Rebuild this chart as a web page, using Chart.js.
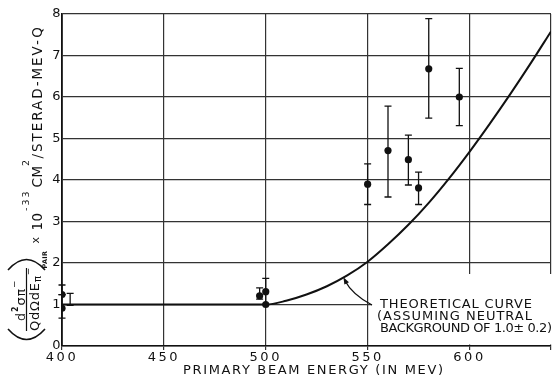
<!DOCTYPE html>
<html>
<head>
<meta charset="utf-8">
<script src="https://cdn.jsdelivr.net/npm/chart.js@4.4.1/dist/chart.umd.min.js"></script>
<style>
  html, body { margin: 0; padding: 0; background: #fff; }
  canvas { display: block; }
</style>
</head>
<body>
<canvas id="canvas" width="555" height="377"></canvas>
<script>
"use strict";

// theoretical curve (neutral background 1.0 +- 0.2)
const curveEnergy = [400, 450, 490, 500, 510, 520, 530, 540, 550, 560, 570, 580, 590, 600, 610, 620, 630, 640];
const curveValue = [1.0, 1.0, 1.0, 1.0, 1.09, 1.24, 1.44, 1.70, 2.03, 2.45, 2.92, 3.45, 4.04, 4.68, 5.36, 6.07, 6.81, 7.58];

// measured points and their error bars
const pointEnergy = [400, 400, 497, 500, 500, 550, 560, 570, 575, 580, 595];
const pointValue = [1.24, 0.91, 1.21, 1.31, 1.0, 3.90, 4.71, 4.49, 3.81, 6.68, 6.00];
const errLow = [1.24, 0.67, 1.13, 1.0, 1.0, 3.41, 3.59, 3.88, 3.41, 5.49, 5.31];
const errHigh = [1.47, 1.24, 1.40, 1.63, 1.0, 4.39, 5.78, 5.08, 4.19, 7.89, 6.69];

// bar without a point next to the 400 MeV data
const bareEnergy = [404];
const bareLow = [0.98];
const bareHigh = [1.27];

// tick labels
const xTickLabels = ["400", "450", "500", "550", "600"];
const yTickLabels = ["0", "1", "2", "3", "4", "5", "6", "7", "8"];

const FONT = "'DejaVu Sans', sans-serif";
const INK = "#111";

function fitText(ctx, text, x, base, width) {
  ctx.letterSpacing = "0px";
  const w = ctx.measureText(text).width;
  const sp = (width - w) / (text.length - 1);
  ctx.letterSpacing = sp + "px";
  ctx.textAlign = "left";
  ctx.textBaseline = "alphabetic";
  ctx.fillText(text, x, base);
  ctx.letterSpacing = "0px";
}

// draws text running upwards, baseline on screen x, starting at screen y
function rotText(ctx, text, x, y, size, sp, weight, endY) {
  ctx.save();
  ctx.font = (weight || "") + " " + size + "px " + FONT;
  ctx.letterSpacing = "0px";
  let spacing = sp || 0;
  if (endY !== undefined) {
    const w0 = ctx.measureText(text).width;
    spacing = ((y - endY) - w0) / (text.length - 1);
  }
  ctx.letterSpacing = spacing + "px";
  ctx.translate(x, y);
  ctx.rotate(-Math.PI / 2);
  ctx.textAlign = "left";
  ctx.textBaseline = "alphabetic";
  ctx.fillText(text, 0, 0);
  const w = ctx.measureText(text).width;
  ctx.restore();
  return y - w;
}

function drawYTitle(ctx) {
  ctx.save();
  ctx.fillStyle = INK;
  ctx.strokeStyle = INK;
  ctx.lineWidth = 1.6;
  ctx.beginPath();
  ctx.moveTo(8, 329); ctx.quadraticCurveTo(26.5, 350, 45, 329);
  ctx.moveTo(8, 270); ctx.quadraticCurveTo(26.5, 249, 45, 270);
  ctx.stroke();
  ctx.lineWidth = 1.2;
  ctx.beginPath();
  ctx.moveTo(26.5, 331); ctx.lineTo(26.5, 268);
  ctx.stroke();

  // numerator
  let y = 321;
  y = rotText(ctx, "d", 24.5, y, 12.5, 1);
  y = rotText(ctx, "2", 17.5, y, 8, 1, "bold");
  y = rotText(ctx, "σ", 24.5, y, 13, 1);
  y = rotText(ctx, "π", 24.5, y, 12, 1);
  rotText(ctx, "−", 17, y, 9, 0);

  // denominator
  y = 331;
  y = rotText(ctx, "QdΩdE", 38.5, y, 13, 0.8);
  y = rotText(ctx, "π", 40.5, y, 10, 0.8);
  rotText(ctx, "−", 31, y, 9, 0);

  rotText(ctx, "PAIR", 47, 268.5, 6.5, 0.3, "bold");

  rotText(ctx, "x", 39.3, 243.5, 11, 0);
  y = rotText(ctx, "10", 42, 230.5, 13.5, 0.5);
  y = rotText(ctx, "-33", 28.5, 211, 9.5, 2);
  y = rotText(ctx, "CM", 42, 187.5, 13.5, 0.5);
  rotText(ctx, "2", 28.5, 166, 9.5, 0);
  rotText(ctx, "/STERAD-MEV-Q", 42, 158.5, 13.5, 0, "", 27);
  ctx.restore();
}

const labelBox = {
  id: "labelBox",
  beforeDatasetsDraw(chart) {
    const ctx = chart.ctx;
    ctx.save();
    ctx.fillStyle = "#fff";
    ctx.fillRect(372, 274, 180, 70.5);
    ctx.restore();
  }
};

const errorBars = {
  id: "errorBars",
  afterDatasetsDraw(chart) {
    const { ctx, scales: { x, y } } = chart;
    ctx.save();
    ctx.strokeStyle = INK;
    ctx.lineWidth = 1.3;
    const bar = (e, lo, hi) => {
      if (lo === hi) return;
      const px = x.getPixelForValue(e);
      const y1 = y.getPixelForValue(lo);
      const y2 = y.getPixelForValue(hi);
      ctx.beginPath();
      ctx.moveTo(px, y1); ctx.lineTo(px, y2);
      ctx.moveTo(px - 3.5, y1); ctx.lineTo(px + 3.5, y1);
      ctx.moveTo(px - 3.5, y2); ctx.lineTo(px + 3.5, y2);
      ctx.stroke();
    };
    pointEnergy.forEach((e, i) => bar(e, errLow[i], errHigh[i]));
    bareEnergy.forEach((e, i) => bar(e, bareLow[i], bareHigh[i]));
    ctx.restore();
  }
};

const texts = {
  id: "texts",
  beforeDraw(chart) {
    chart.ctx.letterSpacing = "2.5px";
  },
  afterDraw(chart) {
    const ctx = chart.ctx;
    ctx.letterSpacing = "0px";
    ctx.save();
    ctx.fillStyle = INK;
    ctx.strokeStyle = INK;
    ctx.font = "13px " + FONT;
    fitText(ctx, "THEORETICAL CURVE", 380, 307.7, 152);
    fitText(ctx, "(ASSUMING NEUTRAL", 377, 320, 155);
    fitText(ctx, "BACKGROUND OF 1.0± 0.2)", 380, 332, 172);
    fitText(ctx, "PRIMARY BEAM ENERGY (IN MEV)", 183, 374, 260);

    // arrow from the label to the curve
    ctx.lineWidth = 1.3;
    ctx.beginPath();
    ctx.moveTo(372, 305);
    ctx.quadraticCurveTo(352.5, 295, 344.5, 280);
    ctx.stroke();
    const a = Math.atan2(280 - 295, 344.5 - 352.5);
    const tx = 343.4, ty = 277.2;
    ctx.beginPath();
    ctx.moveTo(tx, ty);
    ctx.lineTo(tx - 7 * Math.cos(a) + 2.6 * Math.sin(a), ty - 7 * Math.sin(a) - 2.6 * Math.cos(a));
    ctx.lineTo(tx - 7 * Math.cos(a) - 2.6 * Math.sin(a), ty - 7 * Math.sin(a) + 2.6 * Math.cos(a));
    ctx.closePath();
    ctx.fill();
    ctx.restore();

    drawYTitle(ctx);
  }
};

const ctx = document.getElementById("canvas").getContext("2d");

new Chart(ctx, {
  data: {
    datasets: [
      {
        type: "line",
        data: curveEnergy.map((e, i) => ({ x: e, y: curveValue[i] })),
        borderColor: INK,
        borderWidth: 2,
        pointRadius: 0,
        fill: false,
        cubicInterpolationMode: "monotone"
      },
      {
        type: "scatter",
        data: pointEnergy.map((e, i) => ({ x: e, y: pointValue[i] })),
        backgroundColor: INK,
        borderWidth: 0,
        pointRadius: 3.6
      }
    ]
  },
  options: {
    responsive: false,
    animation: false,
    layout: { padding: { top: 14, right: 1, left: 0, bottom: 0 } },
    plugins: {
      legend: { display: false },
      tooltip: { enabled: false }
    },
    scales: {
      x: {
        type: "linear",
        min: 400,
        max: 640,
        afterFit: s => { s.height = 31; },
        ticks: {
          stepSize: 50,
          padding: 0,
          color: INK,
          font: { family: FONT, size: 13 },
          callback: v => xTickLabels.includes(String(v)) ? String(v) : ""
        },
        grid: { color: "#333", lineWidth: 1.2, tickLength: 4 },
        border: { color: INK, width: 1.6 }
      },
      y: {
        min: 0,
        max: 8,
        afterFit: s => { s.width = 62; },
        ticks: {
          stepSize: 1,
          padding: -1,
          color: INK,
          font: { family: FONT, size: 13 },
          callback: v => yTickLabels[v] !== undefined ? yTickLabels[v] : ""
        },
        grid: { color: "#333", lineWidth: 1.2, drawTicks: false },
        border: { color: INK, width: 1.8 }
      }
    }
  },
  plugins: [labelBox, errorBars, texts]
});
</script>
</body>
</html>
